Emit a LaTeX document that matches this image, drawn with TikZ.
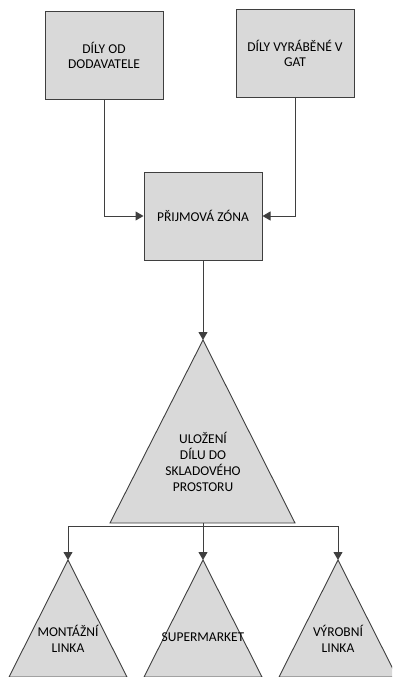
\documentclass[tikz,border=0pt]{standalone}
\usepackage{fontspec}
\setmainfont{Carlito}
\usetikzlibrary{arrows.meta}

\definecolor{boxgray}{HTML}{D9D9D9}
\definecolor{linegray}{HTML}{3F3F3F}

\tikzset{
  box/.style={draw=linegray, fill=boxgray, line width=1pt, minimum width=118pt,
    minimum height=88pt, align=center, font=\fontsize{13.5}{15.5}\selectfont},
  tri/.style={draw=linegray, fill=boxgray, line width=0.9pt},
  label/.style={align=center, font=\fontsize{13.5}{16}\selectfont, inner sep=0pt},
  flow/.style={draw=linegray, line width=1pt, -{Triangle[width=9pt,length=8pt]}}
}

\begin{document}
\begin{tikzpicture}[x=1pt,y=-1pt]
\useasboundingbox (0,0) rectangle (392,677);
\clip (0,0) rectangle (392,677);

% boxes
\node[box] (dodavatel) at (104,55.5) {DÍLY OD\\DODAVATELE};
\node[box] (gat) at (295,53.5) {DÍLY VYRÁBĚNÉ V\\GAT};
\node[box] (prijem) at (203,216) {PŘIJMOVÁ ZÓNA};

% triangles
\draw[tri] (203,340) -- (295,523) -- (110,523) -- cycle;
\coordinate (sklad) at (203,340);
\coordinate (skladbase) at (203,523);
\node[label] (skladtext) at (203,462) {ULOŽENÍ\\DÍLU DO\\SKLADOVÉHO\\PROSTORU};

\draw[tri] (68,560) -- (127,677) -- (9,677) -- cycle;
\draw[tri] (203,560) -- (262,677) -- (144,677) -- cycle;
\draw[tri] (338,560) -- (397,677) -- (279,677) -- cycle;
\coordinate (montaz) at (68,560);
\coordinate (market) at (203,560);
\coordinate (vyroba) at (338,560);
\node[label] (montaztext) at (68,639) {MONTÁŽNÍ\\LINKA};
\node[label] (markettext) at (203,637) {SUPERMARKET};
\node[label] (vyrobatext) at (338,639) {VÝROBNÍ\\LINKA};

% connectors
\draw[flow] (dodavatel.south) |- (prijem.west);
\draw[flow] (gat.south) |- (prijem.east);
\draw[flow] (prijem.south) -- (sklad);

\coordinate (split) at (203,526);
\draw[draw=linegray, line width=1pt] (skladbase) -- (split);
\draw[flow] (split) -| (montaz);
\draw[flow] (split) -- (market);
\draw[flow] (split) -| (vyroba);

\end{tikzpicture}
\end{document}
